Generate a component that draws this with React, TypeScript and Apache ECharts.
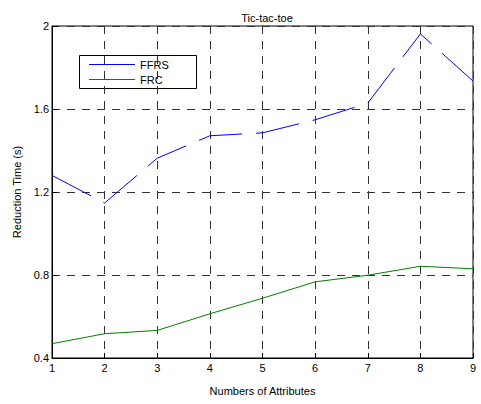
import React, { useEffect, useRef } from "react";
import * as echarts from "echarts";

// Number of attributes on the x axis
const attributes = [1, 2, 3, 4, 5, 6, 7, 8, 9];
// Reduction time in seconds
const ffrsTimes = [1.28, 1.147, 1.363, 1.471, 1.485, 1.548, 1.628, 1.962, 1.735];
const frcTimes = [0.469, 0.517, 0.533, 0.613, 0.688, 0.767, 0.799, 0.842, 0.83];
const yTicks = [0.4, 0.8, 1.2, 1.6, 2];
const seriesNames = ["FFRS", "FRC"];

const FONT = "'Liberation Sans', Arial, sans-serif";
const BLUE = "#0000ff";
const GREEN = "#008000";
const colors = [BLUE, GREEN];

export default function App() {
  const ref = useRef<HTMLDivElement>(null);

  useEffect(() => {
    if (!ref.current) return;
    const chart = echarts.init(ref.current, undefined, { renderer: "svg" });
    const gridLine = { show: true, lineStyle: { color: "#333", width: 1, type: [8, 7] as any } };

    // boxed key with solid line samples
    const keyX = 79;
    const keyY = 55;
    const rowH = 15;
    const legendGraphic = {
      type: "group",
      left: keyX,
      top: keyY,
      children: [
        {
          type: "rect",
          shape: { x: 0.5, y: 0.5, width: 117, height: 33 },
          style: { fill: "#fff", stroke: "#000", lineWidth: 1 },
        },
        ...seriesNames.flatMap((name, i) => [
          {
            type: "line",
            shape: { x1: 10, y1: 9.5 + i * rowH, x2: 56, y2: 9.5 + i * rowH },
            style: { stroke: colors[i], lineWidth: 1 },
          },
          {
            type: "text",
            x: 61,
            y: 9.5 + i * rowH,
            style: {
              text: name,
              fill: "#000",
              font: `11px ${FONT}`,
              textVerticalAlign: "middle",
              verticalAlign: "middle",
            },
          },
        ]),
      ],
    };

    chart.setOption({
      animation: false,
      backgroundColor: "#fff",
      textStyle: { fontFamily: FONT },
      title: {
        text: "Tic-tac-toe",
        left: 262,
        top: 7,
        textAlign: "center",
        textStyle: { fontSize: 11, fontWeight: "normal", color: "#000", fontFamily: FONT },
      },
      graphic: [legendGraphic],
      grid: {
        left: 52,
        top: 26,
        width: 421,
        height: 332,
        show: true,
        borderColor: "#000",
        borderWidth: 1,
        backgroundColor: "transparent",
      },
      xAxis: {
        type: "value",
        min: attributes[0],
        max: attributes[attributes.length - 1],
        interval: 1,
        name: "Numbers of Attributes",
        nameLocation: "middle",
        nameGap: 27,
        nameTextStyle: { fontSize: 11, color: "#000", fontFamily: FONT },
        axisLine: { show: true, lineStyle: { color: "#000", width: 1 } },
        axisTick: { show: true, inside: true, length: 5, lineStyle: { color: "#000" } },
        axisLabel: { fontSize: 11, color: "#000", margin: 4, fontFamily: FONT },
        splitLine: gridLine,
      },
      yAxis: {
        type: "value",
        min: yTicks[0],
        max: yTicks[yTicks.length - 1],
        interval: 0.4,
        name: "Reduction Time (s)",
        nameLocation: "middle",
        nameGap: 28,
        nameTextStyle: { fontSize: 11, color: "#000", fontFamily: FONT },
        axisLine: { show: true, lineStyle: { color: "#000", width: 1 } },
        axisTick: { show: true, inside: true, length: 5, lineStyle: { color: "#000" } },
        axisLabel: {
          fontSize: 11,
          color: "#000",
          margin: 3,
          fontFamily: FONT,
          formatter: (v: number) => String(Number(v.toFixed(1))),
        },
        splitLine: gridLine,
      },
      series: [
        {
          name: seriesNames[0],
          type: "line",
          data: attributes.map((a, i) => [a, ffrsTimes[i]]),
          symbol: "none",
          color: BLUE,
          lineStyle: { color: BLUE, width: 1, type: [44, 14] as any },
        },
        {
          name: seriesNames[1],
          type: "line",
          data: attributes.map((a, i) => [a, frcTimes[i]]),
          symbol: "none",
          color: GREEN,
          lineStyle: { color: GREEN, width: 1, type: "solid" },
        },
      ],
    });
    return () => chart.dispose();
  }, []);

  return <div ref={ref} style={{ width: 481, height: 404, position: "absolute", left: 0, top: 0 }} />;
}
